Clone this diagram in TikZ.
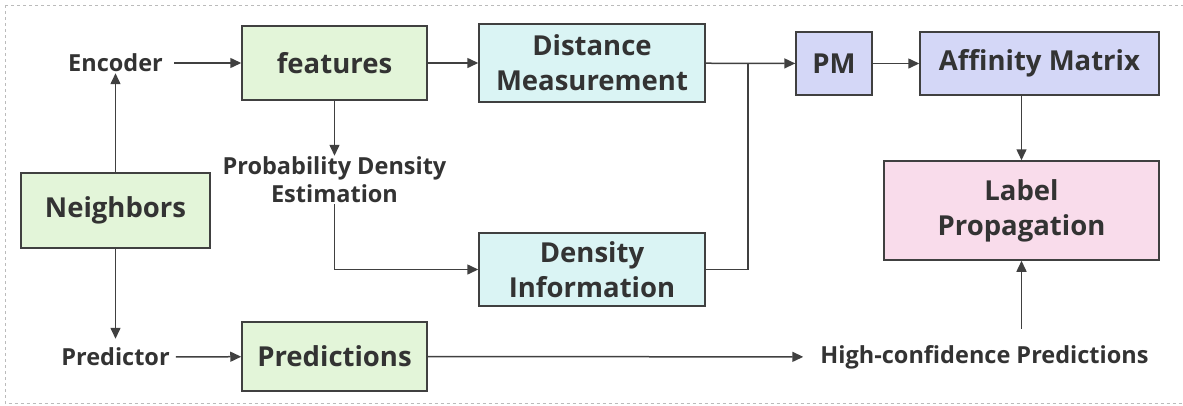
\documentclass[tikz,border=0pt]{standalone}
\usepackage{fontspec}
\setmainfont{Open Sans}
\usepackage{xcolor}
\usetikzlibrary{arrows.meta}
\definecolor{ink}{HTML}{333333}
\definecolor{edge}{HTML}{404040}
\definecolor{frame}{HTML}{BBBBBB}
\definecolor{boxgreen}{HTML}{E3F5D9}
\definecolor{boxcyan}{HTML}{DAF4F4}
\definecolor{boxblue}{HTML}{D4D7F7}
\definecolor{boxpink}{HTML}{F9DCEB}

\begin{document}
\begin{tikzpicture}[x=1pt,y=-1pt,>={Triangle[length=11pt,width=10pt]},
  box/.style={draw=edge,line width=1.5pt,text=ink,align=center,inner sep=0pt,
    font=\bfseries\fontsize{27.5}{35}\selectfont},
  lbl/.style={text=ink,align=center,inner sep=1pt,
    font=\bfseries\fontsize{23.5}{28}\selectfont},
  conn/.style={draw=edge,line width=1.5pt}]
  \useasboundingbox (0,0) rectangle (1183,405);
  \draw[frame,dashed,line width=0.9pt] (5,5) rectangle (1195,403.5);

  % boxes
  \node[box,fill=boxgreen,minimum width=189pt,minimum height=75pt] (nbr) at (115.5,210.5) {Neighbors};
  \node[box,fill=boxgreen,minimum width=185pt,minimum height=74pt] (feat) at (334.5,63) {features};
  \node[box,fill=boxgreen,minimum width=185pt,minimum height=69pt] (predn) at (334.5,356.5) {Predictions};
  \node[box,fill=boxcyan,minimum width=226pt,minimum height=78pt] (dist) at (592,63) {Distance\\Measurement};
  \node[box,fill=boxcyan,minimum width=226pt,minimum height=73pt] (dens) at (592,269.5) {Density\\Information};
  \node[box,fill=boxblue,minimum width=76pt,minimum height=63pt] (pm) at (834,63.5) {PM};
  \node[box,fill=boxblue,minimum width=239pt,minimum height=63pt] (aff) at (1039.5,63.5) {Affinity Matrix};
  \node[box,fill=boxpink,minimum width=275pt,minimum height=99pt] (lab) at (1021.5,210.5) {Label\\Propagation};

  % plain labels
  \node[lbl] (enc) at (115.5,63) {Encoder};
  \node[lbl] (pred) at (115.5,357) {Predictor};
  \node[lbl] (pde) at (334.5,180) {Probability Density\\Estimation};
  \node[lbl] (hcp) at (984.5,357) {High-confidence Predictions};
  \coordinate (join) at (748,63);

  % connectors
  \draw[conn,->] (nbr) -- (enc);
  \draw[conn,->,shorten >=8pt] (nbr) -- (pred);
  \draw[conn,->,shorten <=10pt] (enc) -- (feat);
  \draw[conn,->,shorten <=5pt] (pred) -- (predn);
  \draw[conn,->] (feat) -- (pde);
  \draw[conn,->] (pde) |- (dens);
  \draw[conn,->] (feat) -- (dist);
  \draw[conn,->] (dist) -- (pm);
  \draw[conn] (dens) -| (join);
  \draw[conn,->] (pm) -- (aff);
  \draw[conn,->] (lab.north |- aff.south) -- (lab.north);
  \draw[conn,->,shorten <=15pt] (lab.south |- hcp.north) -- (lab.south);
  \draw[conn,->,shorten >=16pt] (predn) -- (hcp);
\end{tikzpicture}
\end{document}
